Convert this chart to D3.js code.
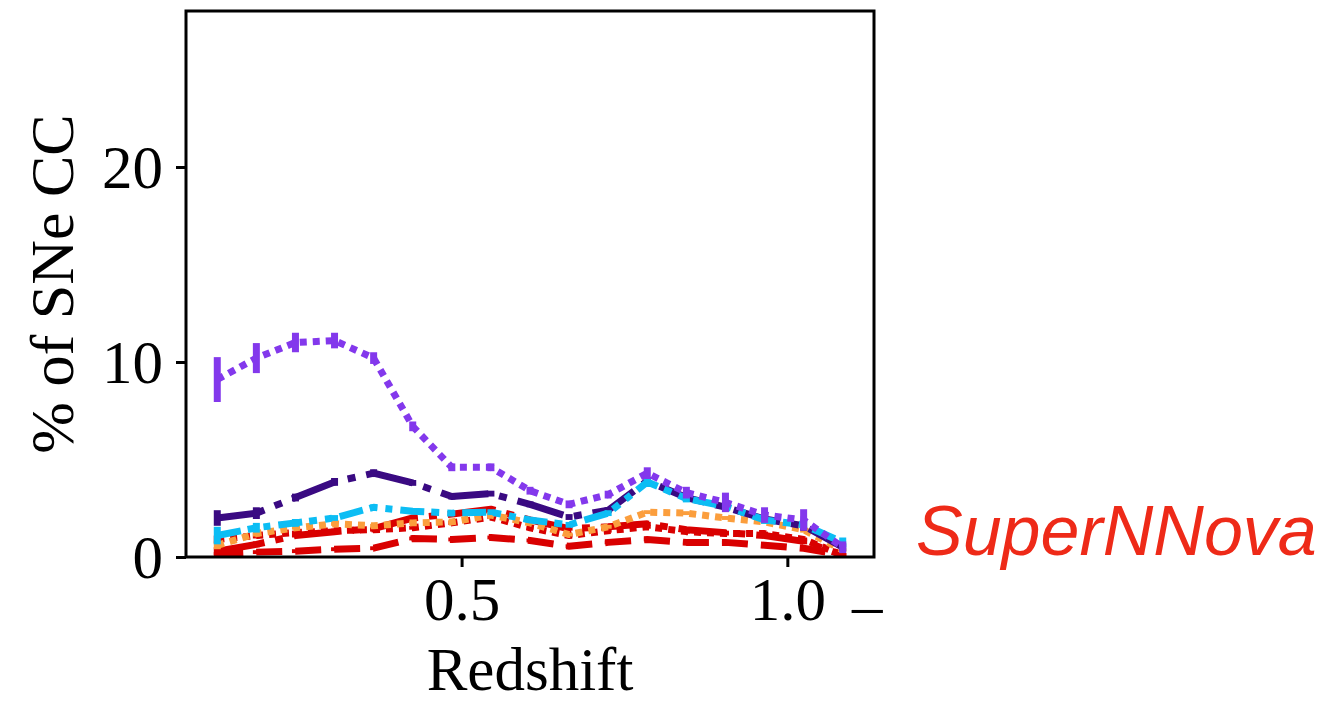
<!DOCTYPE html>
<html>
<head>
<meta charset="utf-8">
<script src="https://cdn.jsdelivr.net/npm/d3@7"></script>
<style>
  body { margin: 0; background: #fff; }
  svg { display: block; }
</style>
</head>
<body>
<svg id="chart" width="1326" height="705"></svg>
<script>
// Redshift bin centres
const redshift = [0.125, 0.185, 0.245, 0.305, 0.365, 0.425, 0.485, 0.545, 0.605,
                  0.665, 0.725, 0.785, 0.845, 0.905, 0.965, 1.025, 1.085];

// Percentage of core-collapse SNe per bin, one array per curve
const violetPct = [9.1, 10.2, 11.0, 11.1, 10.2, 6.7, 4.6, 4.6, 3.4, 2.7, 3.2, 4.3, 3.3, 2.8, 2.15, 1.9, 0.5];
const violetErr = [1.15, 0.77, 0.5, 0.4, 0.3, 0.25, 0.2, 0.2, 0.2, 0.2, 0.2, 0.3, 0.3, 0.5, 0.4, 0.55, 0.3];

const indigoPct = [2.0, 2.25, 3.05, 3.85, 4.3, 3.8, 3.1, 3.25, 2.7, 2.05, 2.4, 3.9, 3.05, 2.55, 1.95, 1.6, 0.5];
const indigoErr = [0.4, 0.3, 0.2, 0.2, 0.2, 0.15, 0.15, 0.15, 0.15, 0.15, 0.15, 0.2, 0.2, 0.2, 0.2, 0.25, 0.2];

const cyanPct = [1.1, 1.5, 1.75, 2.0, 2.55, 2.35, 2.25, 2.3, 1.9, 1.65, 2.25, 3.85, 3.0, 2.6, 1.9, 1.65, 0.75];
const cyanErr = [0.45, 0.25, 0.2, 0.15, 0.15, 0.15, 0.15, 0.15, 0.15, 0.15, 0.15, 0.2, 0.2, 0.2, 0.2, 0.2, 0.25];

const orangePct = [0.6, 1.2, 1.5, 1.7, 1.6, 1.75, 1.8, 2.15, 1.75, 1.15, 1.55, 2.3, 2.25, 2.0, 1.8, 1.4, 0.35];
const orangeErr = [0.2, 0.15, 0.1, 0.1, 0.1, 0.1, 0.1, 0.1, 0.1, 0.1, 0.1, 0.1, 0.1, 0.1, 0.1, 0.15, 0.1];

const redDashDotPct = [0.3, 0.65, 1.1, 1.3, 1.45, 2.0, 2.2, 2.45, 1.9, 1.45, 1.55, 1.7, 1.4, 1.25, 1.1, 0.8, 0.1];
const redDashDotErr = [0.2, 0.15, 0.1, 0.1, 0.1, 0.1, 0.1, 0.1, 0.1, 0.1, 0.1, 0.1, 0.1, 0.1, 0.1, 0.15, 0.1];

const redDottedPct = [0.9, 1.1, 1.25, 1.35, 1.4, 1.5, 1.75, 2.05, 1.5, 1.1, 1.35, 1.55, 1.3, 1.2, 1.2, 0.9, 0.1];
const redDottedErr = [0.2, 0.15, 0.1, 0.1, 0.1, 0.1, 0.1, 0.1, 0.1, 0.1, 0.1, 0.1, 0.1, 0.1, 0.1, 0.1, 0.1];

const redDashedPct = [0.15, 0.25, 0.3, 0.4, 0.45, 0.95, 0.9, 1.0, 0.85, 0.55, 0.75, 0.9, 0.75, 0.75, 0.6, 0.45, 0.1];
const redDashedErr = [0.1, 0.1, 0.1, 0.1, 0.1, 0.1, 0.1, 0.1, 0.1, 0.1, 0.1, 0.1, 0.1, 0.1, 0.1, 0.1, 0.1];

const xTickValues = [0.5, 1.0];
const yTickValues = [0, 10, 20];
const xDomain = [0.077, 1.133];
const yDomain = [0, 28];

// Curves in drawing order (first drawn at the bottom)
const curves = [
  { pct: redDashedPct,   err: redDashedErr,   color: "#d90000", dash: "26,13" },
  { pct: redDashDotPct,  err: redDashDotErr,  color: "#d90000", dash: "48,11,8,11" },
  { pct: redDottedPct,   err: redDottedErr,   color: "#d90000", dash: "7,6" },
  { pct: orangePct,      err: orangeErr,      color: "#fb9e3d", dash: "7,6" },
  { pct: indigoPct,      err: indigoErr,      color: "#3a0a82", dash: "48,11,8,11" },
  { pct: cyanPct,        err: cyanErr,        color: "#0cbdf4", dash: "24,7,8,8,7,8" },
  { pct: violetPct,      err: violetErr,      color: "#8338ec", dash: "7,6" }
];

const svg = d3.select("#chart");
const plot = { left: 186, top: 11, right: 874, bottom: 557 };

const x = d3.scaleLinear().domain(xDomain).range([plot.left, plot.right]);
const y = d3.scaleLinear().domain(yDomain).range([plot.bottom, plot.top]);

svg.append("defs").append("clipPath").attr("id", "plot-clip")
  .append("rect")
  .attr("x", plot.left).attr("y", plot.top)
  .attr("width", plot.right - plot.left).attr("height", plot.bottom - plot.top);

const lineGen = d3.line()
  .x(d => x(d[0]))
  .y(d => y(d[1]));

const marks = svg.append("g").attr("clip-path", "url(#plot-clip)");

curves.forEach(c => {
  const pts = redshift.map((z, i) => [z, c.pct[i], c.err[i]]);
  const g = marks.append("g");
  g.append("path")
    .datum(pts)
    .attr("d", lineGen)
    .attr("fill", "none")
    .attr("stroke", c.color)
    .attr("stroke-width", 7)
    .attr("stroke-linejoin", "round")
    .attr("stroke-linecap", "butt")
    .attr("stroke-dasharray", c.dash);
  g.selectAll("line.err")
    .data(pts)
    .join("line")
    .attr("class", "err")
    .attr("x1", d => x(d[0])).attr("x2", d => x(d[0]))
    .attr("y1", d => y(d[1] - d[2])).attr("y2", d => y(d[1] + d[2]))
    .attr("stroke", c.color)
    .attr("stroke-width", 7);
});

// Axes
const serif = "'Liberation Serif', 'DejaVu Serif', serif";

const yAxis = d3.axisLeft(y).tickValues(yTickValues).tickSize(10).tickPadding(13)
  .tickFormat(d3.format("d"));
const yG = svg.append("g").attr("transform", `translate(${plot.left},0)`).call(yAxis);
yG.select(".domain").remove();
yG.selectAll(".tick line").attr("stroke", "#000").attr("stroke-width", 3);
yG.selectAll(".tick text")
  .attr("font-family", serif).attr("font-size", 61).attr("fill", "#000")
  .attr("dy", "0.34em");

const xAxis = d3.axisBottom(x).tickValues(xTickValues).tickSize(10).tickPadding(10)
  .tickFormat(d3.format(".1f"));
const xG = svg.append("g").attr("transform", `translate(0,${plot.bottom})`).call(xAxis);
xG.select(".domain").remove();
xG.selectAll(".tick line").attr("stroke", "#000").attr("stroke-width", 3);
xG.selectAll(".tick text")
  .attr("font-family", serif).attr("font-size", 61).attr("fill", "#000")
  .attr("dy", "0.71em");

// trailing dash after the last tick label
svg.append("text")
  .attr("x", x(1.0) + 80).attr("y", 626)
  .attr("text-anchor", "middle")
  .attr("font-family", serif).attr("font-size", 61).attr("fill", "#000")
  .text("–");

// Frame
svg.append("rect")
  .attr("x", plot.left).attr("y", plot.top)
  .attr("width", plot.right - plot.left).attr("height", plot.bottom - plot.top)
  .attr("fill", "none").attr("stroke", "#000").attr("stroke-width", 3);

// Axis titles
svg.append("text")
  .attr("x", (plot.left + plot.right) / 2).attr("y", 690)
  .attr("text-anchor", "middle")
  .attr("font-family", serif).attr("font-size", 61).attr("fill", "#000")
  .text("Redshift");

svg.append("text")
  .attr("transform", `translate(73,${(plot.top + plot.bottom) / 2}) rotate(-90)`)
  .attr("text-anchor", "middle")
  .attr("font-family", serif).attr("font-size", 62).attr("fill", "#000")
  .text("% of SNe CC");

// Method tag
svg.append("text")
  .attr("x", 916).attr("y", 555)
  .attr("font-family", "'Liberation Sans', Arial, sans-serif")
  .attr("font-style", "italic")
  .attr("font-size", 70)
  .attr("fill", "#ee2a18")
  .text("SuperNNova");
</script>
</body>
</html>
